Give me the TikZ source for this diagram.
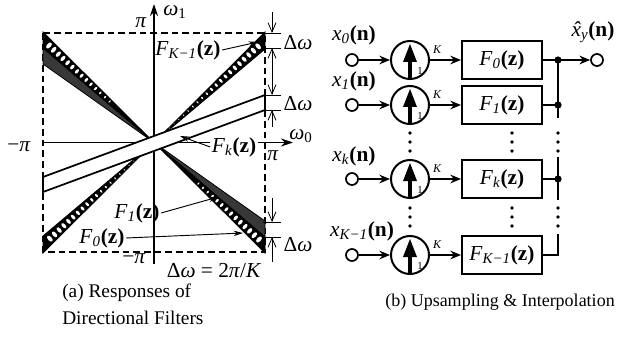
\documentclass[tikz,border=0pt]{standalone}
\usepackage{fontspec}
\setmainfont{Liberation Serif}
\usetikzlibrary{arrows.meta}
\newcommand{\Fsub}[1]{\textit{F}\textsubscript{\textit{#1}}\textbf{(z)}}
\newcommand{\xsub}[1]{\textit{x}\textsubscript{\textit{#1}}\textbf{(n)}}
\begin{document}
\begin{tikzpicture}[x=0.75pt,y=-0.75pt,
  font=\fontsize{16}{18}\selectfont,
  sq/.style={line width=1pt, dash pattern=on 5pt off 3pt},
  ax/.style={line width=1pt,-{Stealth[length=9pt,width=6pt]}},
  band/.style={line width=0.6pt},
  strip/.style={line width=1.3pt, fill=white},
  lbl/.style={inner sep=1pt},
  lblarrow/.style={line width=0.7pt,-{Stealth[length=7pt,width=4pt]}},
  dim/.style={line width=0.6pt,-{Straight Barb[length=7pt,width=6pt]}},
  dimtick/.style={line width=0.6pt},
  wire/.style={line width=1.5pt},
  wirearrow/.style={line width=1.5pt,-{Stealth[length=8pt,width=6.5pt]}},
  fbox/.style={draw, line width=1.5pt, minimum width=60pt, minimum height=28.5pt, inner sep=0pt},
  ups/.style={draw, circle, line width=1.5pt, minimum size=28.5pt, inner sep=0pt},
  port/.style={draw, circle, line width=1.3pt, minimum size=9pt, inner sep=0pt},
  captext/.style={inner sep=0pt, anchor=west}
]
\useasboundingbox (0,0) rectangle (625,360);

% ---------------- left panel ----------------
\draw[sq] (43,33) rectangle (265,252);
\draw[ax] (154,264) -- (154,4);
\draw[ax] (42,142.5) -- (293,142.5);

% F_{K-1} bowtie
\filldraw[band, fill=black] (154,142.5) -- (265,32) -- (265,49) -- cycle;
\filldraw[band, fill=black] (154,142.5) -- (43,253) -- (43,236) -- cycle;
\foreach \t in {0.14,0.182,...,0.97}{
  \fill[white, rotate around={42.7:({154+111*\t},{142.5-102.5*\t})}]
    ({154+111*\t},{142.5-102.5*\t}) ellipse[x radius={\t*1.6pt}, y radius={\t*2.9pt}];
  \fill[white, rotate around={42.7:({154-111*\t},{142.5+102.5*\t})}]
    ({154-111*\t},{142.5+102.5*\t}) ellipse[x radius={\t*1.6pt}, y radius={\t*2.9pt}];
}
% F_1 bowtie (stippled)
\filldraw[band, fill=black!78] (154,142.5) -- (265,237) -- (265,221) -- cycle;
\filldraw[band, fill=black!78] (154,142.5) -- (43,48) -- (43,64) -- cycle;
% F_0 bowtie
\filldraw[band, fill=black] (154,142.5) -- (265,253) -- (265,237) -- cycle;
\filldraw[band, fill=black] (154,142.5) -- (43,32) -- (43,48) -- cycle;
\foreach \t in {0.40,0.442,...,0.97}{
  \fill[white, rotate around={-42.7:({154+111*\t},{142.5+102.5*\t})}]
    ({154+111*\t},{142.5+102.5*\t}) ellipse[x radius={\t*1.6pt}, y radius={\t*2.9pt}];
  \fill[white, rotate around={-42.7:({154-111*\t},{142.5-102.5*\t})}]
    ({154-111*\t},{142.5-102.5*\t}) ellipse[x radius={\t*1.6pt}, y radius={\t*2.9pt}];
}
% F_k strip
\draw[strip] (43,177) -- (265,95) -- (265,110) -- (43,192) -- cycle;

% axis labels
\node[lbl] (pitop) at (141,23) {\textit{π}};
\node[lbl] (w1) at (175,12) {\textit{ω}\textsubscript{1}};
\node[lbl] (pileft) at (19,147) {−\textit{π}};
\node[lbl] (piright) at (273,156) {\textit{π}};
\node[lbl] (w0) at (301,136) {\textit{ω}\textsubscript{0}};
\node[lbl] (pibot) at (134,259) {−\textit{π}};
\node[lbl] (dweq) at (214,271) {Δ\textit{ω} = 2\textit{π}/\textit{K}};

% filter labels
\node[lbl] (lKm1) at (188,50) {\Fsub{K−1}};
\coordinate (tKm1) at (258,42);
\draw[lblarrow] (lKm1.east) -- (tKm1);
\node[lbl, fill=white] (lk) at (234,147) {\Fsub{k}};
\coordinate (tk) at (180,136);
\draw[lblarrow] (lk.west) -- (tk);
\node[lbl] (l1) at (137,213) {\Fsub{1}};
\coordinate (t1) at (218,197);
\draw[lblarrow] (l1.east) -- (t1);
\node[lbl] (l0) at (102,238) {\Fsub{0}};
\coordinate (t0) at (243,233);
\draw[lblarrow] (l0.east) -- (t0);

% delta omega dimensions
\foreach \yy in {33,48,95,110,222,237}{
  \draw[dimtick] (263,\yy) -- (281,\yy);
}
\draw[dim] (272,12) -- (272,33);
\draw[dim, {Straight Barb[length=7pt,width=6pt]}-{Straight Barb[length=7pt,width=6pt]}] (272,48) -- (272,95);
\draw[dim] (272,127) -- (272,110);
\draw[dim] (272,198) -- (272,222);
\draw[dim] (272,262) -- (272,237);
\node[lbl] (dw1) at (298,43) {Δ\textit{ω}};
\node[lbl] (dw2) at (298,104) {Δ\textit{ω}};
\node[lbl] (dw3) at (298,245) {Δ\textit{ω}};

% ---------------- right panel ----------------
\foreach \r/\yy/\s in {0/60/0, 1/105/1, k/179/k, K/255/K−1}{
  \node[port] (in\r) at (352,\yy) {};
  \node[ups] (up\r) at (410,\yy) {};
  \node[fbox] (box\r) at (502,\yy) {\Fsub{\s}};
  \coordinate (bus\r) at (558,\yy);
  \draw[wirearrow] (in\r) -- (up\r);
  \draw[wirearrow] (up\r) -- (box\r);
  \draw[line width=3pt] (up\r.south) -- (410,\yy);
  \fill (410,{\yy-16}) -- (403,{\yy+2}) -- (417,{\yy+2}) -- cycle;
  \node[inner sep=0pt, font=\fontsize{8}{9}\selectfont] (one\r) at (420,{\yy+11}) {1};
  \node[inner sep=0pt, font=\fontsize{9}{10}\selectfont\itshape] (K\r) at (437,{\yy-10}) {K};
}
\node[lbl] (lx0) at (354,35) {\xsub{0}};
\node[lbl] (lx1) at (354,81) {\xsub{1}};
\node[lbl] (lxk) at (354,156) {\xsub{k}};
\node[lbl] (lxK) at (362,231) {\xsub{K−1}};

\draw[wire] (box0) -- (bus0);
\draw[wire] (box1) -- (bus1);
\draw[wire] (boxk) -- (busk);
\draw[wire] (boxK) -- (busK) -- (558,234);
\draw[wire] (bus0) -- (558,118);
\draw[wire] (558,157) -- (558,200);
\foreach \yy in {60,105,179}{ \fill (558,\yy) circle[radius=3.6]; }
\node[port] (out) at (597,60) {};
\draw[wirearrow] (bus0) -- (out);
\node[lbl] (lout) at (593,32) {{\itshape\accent"02C6 x}\textsubscript{\textit{y}}\textbf{(n)}};

% dots
\foreach \xx in {410,512,558}{
  \foreach \yy in {133,142,151,208,217,226}{
    \fill (\xx,\yy) circle[radius=1.9];
  }
}

% captions
\node[captext, font=\fontsize{14.5}{16}\selectfont] (capa1) at (62,293) {(a) Responses of};
\node[captext, font=\fontsize{14.5}{16}\selectfont] (capa2) at (62,318) {Directional Filters};
\node[captext, font=\fontsize{13.5}{16}\selectfont] (capb) at (385,302) {(b) Upsampling \& Interpolation};
\end{tikzpicture}
\end{document}
